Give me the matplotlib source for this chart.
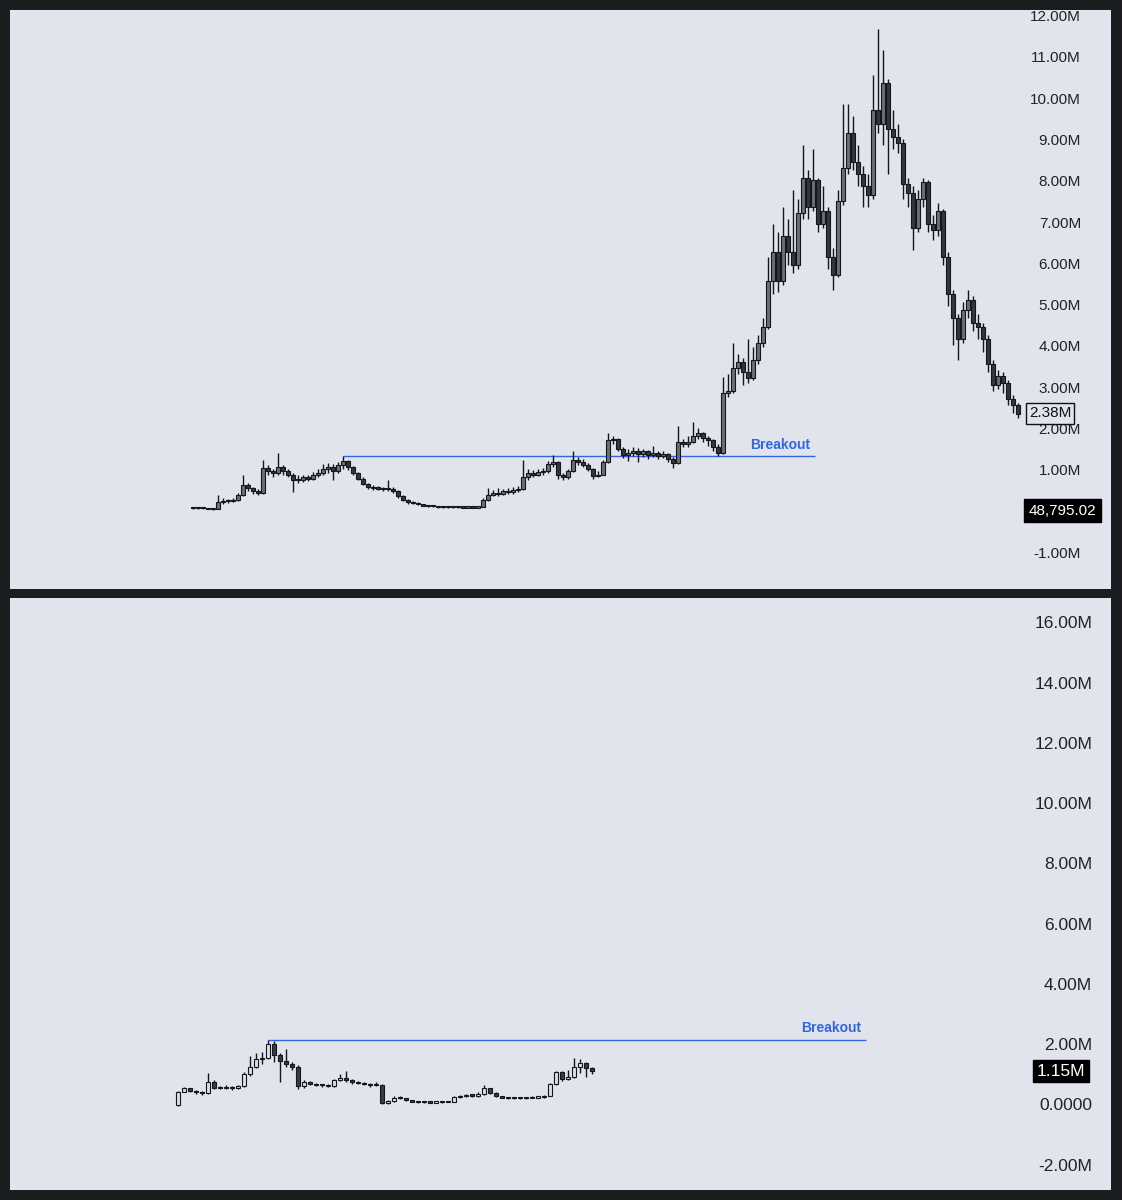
import matplotlib
matplotlib.use("Agg")
import matplotlib.pyplot as plt
import matplotlib.transforms as mtransforms
import numpy as np

# ---------------- data (values in millions) ----------------
top_close = [0.10, 0.11, 0.10, 0.09, 0.08, 0.25, 0.28, 0.27, 0.30, 0.42,
             0.68, 0.60, 0.52, 0.48, 1.08, 1.00, 0.95, 1.10, 1.00, 0.92,
             0.78, 0.80, 0.85, 0.82, 0.90, 0.95, 1.05, 1.10, 1.00, 1.15,
             1.25, 1.10, 0.95, 0.82, 0.70, 0.62, 0.60, 0.58, 0.56, 0.58,
             0.52, 0.40, 0.30, 0.25, 0.23, 0.20, 0.17, 0.15, 0.15, 0.14,
             0.14, 0.13, 0.14, 0.13, 0.12, 0.13, 0.12, 0.14, 0.30, 0.42,
             0.48, 0.45, 0.52, 0.50, 0.55, 0.58, 0.85, 0.95, 0.92, 0.98,
             1.00, 1.18, 1.22, 0.90, 0.85, 1.00, 1.28, 1.22, 1.15, 1.05,
             0.88, 0.92, 1.22, 1.75, 1.78, 1.55, 1.40, 1.45, 1.50, 1.42,
             1.48, 1.40, 1.45, 1.38, 1.42, 1.30, 1.20, 1.70, 1.65, 1.72,
             1.85, 1.92, 1.80, 1.75, 1.60, 1.45, 2.90, 2.95, 3.50, 3.65,
             3.40, 3.25, 3.70, 4.10, 4.50, 5.60, 6.30, 5.60, 6.70, 6.30,
             6.00, 7.25, 8.10, 7.40, 8.05, 7.00, 7.30, 6.20, 5.75, 7.55,
             8.35, 9.20, 8.50, 8.20, 7.90, 7.70, 9.75, 9.40, 10.40, 9.30,
             9.10, 8.95, 7.95, 7.75, 6.90, 7.60, 8.00, 7.00, 6.85, 7.30,
             6.20, 5.30, 4.70, 4.20, 4.90, 5.15, 4.60, 4.50, 4.20, 3.60,
             3.10, 3.30, 3.15, 2.75, 2.60, 2.38]
top_high = [0.12, 0.13, 0.12, 0.11, 0.10, 0.42, 0.35, 0.32, 0.36, 0.48,
            0.90, 0.72, 0.62, 0.58, 1.27, 1.15, 1.05, 1.44, 1.15, 1.05,
            0.95, 0.90, 0.92, 0.92, 0.98, 1.05, 1.18, 1.20, 1.18, 1.22,
            1.37, 1.28, 1.12, 0.98, 0.85, 0.72, 0.66, 0.64, 0.62, 0.78,
            0.62, 0.55, 0.42, 0.32, 0.28, 0.25, 0.22, 0.19, 0.17, 0.16,
            0.16, 0.15, 0.16, 0.15, 0.14, 0.15, 0.14, 0.16, 0.35, 0.60,
            0.55, 0.60, 0.58, 0.60, 0.62, 0.65, 1.27, 1.05, 1.02, 1.05,
            1.08, 1.25, 1.40, 1.25, 0.95, 1.05, 1.50, 1.35, 1.30, 1.20,
            1.08, 1.00, 1.28, 1.92, 1.85, 1.80, 1.58, 1.55, 1.58, 1.56,
            1.55, 1.52, 1.62, 1.50, 1.48, 1.45, 1.35, 2.10, 1.78, 1.85,
            2.20, 2.05, 1.95, 1.85, 1.78, 1.65, 3.28, 3.35, 4.10, 3.85,
            3.75, 4.20, 4.00, 4.30, 4.70, 6.20, 7.00, 6.80, 7.40, 7.10,
            7.80, 7.60, 8.90, 8.30, 8.80, 8.10, 7.90, 7.40, 6.40, 7.80,
            9.90, 9.90, 9.60, 8.90, 8.40, 8.20, 10.60, 11.70, 11.20, 10.50,
            9.75, 9.40, 9.05, 8.10, 7.90, 7.80, 8.10, 8.05, 7.20, 7.50,
            7.35, 6.30, 5.40, 4.80, 5.10, 5.40, 5.25, 4.80, 4.60, 4.30,
            3.70, 3.45, 3.40, 3.20, 2.85, 2.65]
top_low = [0.09, 0.09, 0.09, 0.08, 0.07, 0.08, 0.22, 0.24, 0.26, 0.28,
           0.40, 0.52, 0.46, 0.42, 0.46, 0.90, 0.85, 0.92, 0.92, 0.85,
           0.50, 0.72, 0.74, 0.76, 0.78, 0.85, 0.90, 0.95, 0.80, 0.95,
           1.05, 1.02, 0.90, 0.78, 0.66, 0.58, 0.55, 0.54, 0.52, 0.52,
           0.48, 0.36, 0.27, 0.22, 0.20, 0.18, 0.15, 0.13, 0.13, 0.12,
           0.12, 0.11, 0.12, 0.11, 0.10, 0.11, 0.10, 0.12, 0.13, 0.28,
           0.40, 0.40, 0.42, 0.45, 0.46, 0.50, 0.55, 0.80, 0.85, 0.88,
           0.92, 0.95, 1.10, 0.82, 0.78, 0.82, 0.98, 1.15, 1.10, 1.00,
           0.82, 0.85, 0.90, 1.20, 1.65, 1.48, 1.32, 1.25, 1.38, 1.22,
           1.35, 1.30, 1.35, 1.30, 1.32, 1.22, 1.08, 1.18, 1.58, 1.60,
           1.68, 1.78, 1.72, 1.62, 1.50, 1.38, 1.42, 2.80, 2.90, 3.35,
           3.10, 3.15, 3.20, 3.60, 4.00, 4.45, 5.30, 5.35, 5.50, 6.00,
           5.80, 5.90, 7.10, 7.10, 7.30, 6.80, 6.90, 5.90, 5.40, 5.70,
           7.45, 8.20, 8.30, 7.90, 7.40, 7.40, 7.60, 9.20, 8.90, 8.20,
           8.80, 8.70, 7.60, 7.40, 6.35, 6.80, 7.40, 6.80, 6.60, 6.70,
           6.00, 5.00, 4.05, 3.70, 4.10, 4.70, 4.40, 4.20, 3.90, 3.40,
           2.95, 3.00, 2.90, 2.60, 2.40, 2.30]
top_first_open = 0.10

bot_close = [0.47, 0.58, 0.50, 0.45, 0.42, 0.80, 0.60, 0.58, 0.60, 0.58,
             0.65, 1.05, 1.30, 1.55, 1.60, 2.05, 1.70, 1.50, 1.38, 1.30,
             0.65, 0.78, 0.72, 0.70, 0.68, 0.66, 0.85, 0.92, 0.85, 0.80,
             0.75, 0.72, 0.68, 0.70, 0.10, 0.15, 0.28, 0.25, 0.20, 0.14,
             0.13, 0.12, 0.11, 0.12, 0.13, 0.14, 0.30, 0.32, 0.35, 0.34,
             0.38, 0.58, 0.42, 0.33, 0.28, 0.26, 0.25, 0.26, 0.27, 0.28,
             0.30, 0.33, 0.72, 1.12, 0.88, 0.95, 1.28, 1.42, 1.25, 1.15]
bot_high = [0.50, 0.62, 0.60, 0.52, 0.48, 1.10, 0.85, 0.65, 0.68, 0.66,
            0.70, 1.12, 1.65, 1.75, 1.80, 2.20, 2.15, 1.75, 1.90, 1.45,
            1.35, 0.85, 0.82, 0.76, 0.74, 0.72, 0.90, 1.05, 1.15, 0.90,
            0.84, 0.78, 0.76, 0.80, 0.72, 0.20, 0.32, 0.32, 0.26, 0.21,
            0.16, 0.15, 0.13, 0.14, 0.15, 0.16, 0.32, 0.36, 0.40, 0.38,
            0.45, 0.68, 0.60, 0.45, 0.34, 0.30, 0.28, 0.28, 0.30, 0.32,
            0.33, 0.37, 0.75, 1.15, 1.15, 1.20, 1.60, 1.55, 1.45, 1.28]
bot_low = [0.00, 0.45, 0.45, 0.40, 0.35, 0.40, 0.55, 0.55, 0.55, 0.54,
           0.56, 0.64, 1.00, 1.25, 1.40, 1.55, 1.45, 0.80, 1.30, 1.20,
           0.55, 0.60, 0.68, 0.66, 0.64, 0.62, 0.64, 0.82, 0.80, 0.74,
           0.72, 0.68, 0.62, 0.65, 0.08, 0.08, 0.14, 0.22, 0.17, 0.12,
           0.11, 0.10, 0.09, 0.10, 0.11, 0.12, 0.13, 0.28, 0.30, 0.30,
           0.30, 0.36, 0.38, 0.30, 0.25, 0.24, 0.23, 0.23, 0.24, 0.25,
           0.26, 0.28, 0.32, 0.70, 0.84, 0.85, 0.92, 1.10, 0.95, 1.05]
bot_first_open = 0.02

top_ticks = [-1, 1, 2, 3, 4, 5, 6, 7, 8, 9, 10, 11, 12]
top_tick_labels = ["-1.00M", "1.00M", "2.00M", "3.00M", "4.00M", "5.00M", "6.00M",
                   "7.00M", "8.00M", "9.00M", "10.00M", "11.00M", "12.00M"]
bot_ticks = [-2, 0, 2, 4, 6, 8, 10, 12, 14, 16]
bot_tick_labels = ["-2.00M", "0.0000", "2.00M", "4.00M", "6.00M", "8.00M",
                   "10.00M", "12.00M", "14.00M", "16.00M"]

top_breakout_level = 1.37
top_breakout_span = (30, 124.4)
bot_breakout_level = 2.19
bot_breakout_span = (15, 114.7)

top_last_label = ("2.38M", 2.40)
top_price_label = ("48,795.02", 0.0488)
bot_last_label = ("1.15M", 1.15)

# ---------------- style ----------------
PANEL = "#e1e3ed"
DARK = "#1c1d21"
BLUE = "#3265e6"
W, H = 1122, 1200

fig = plt.figure(figsize=(W / 100, H / 100), dpi=100, facecolor=DARK)
plt.rcParams['font.family'] = ['Liberation Sans', 'DejaVu Sans']


def draw_candles(ax, first_open, close, high, low, width, up_face, down_face, min_h):
    close = np.array(close)
    opens = np.concatenate([[first_open], close[:-1]])
    x = np.arange(len(close))
    ax.vlines(x, low, high, color="#15161a", linewidth=1.0, zorder=2)
    bottoms = np.minimum(opens, close)
    heights = np.maximum(np.abs(close - opens), min_h)
    faces = [up_face if c >= o else down_face for o, c in zip(opens, close)]
    ax.bar(x, heights, bottom=bottoms, width=width, color=faces,
           edgecolor="#15161a", linewidth=0.8, zorder=3)


def px_to_axfrac(ax, px):
    pos = ax.get_position()
    return (px / W - pos.x0) / pos.width


def setup(ax, xlim, ylim, ticks, labels, label_x_px, fs):
    ax.set_facecolor(PANEL)
    ax.set_xlim(*xlim)
    ax.set_ylim(*ylim)
    for s in ax.spines.values():
        s.set_visible(False)
    ax.set_xticks([])
    ax.set_yticks([])
    xf = px_to_axfrac(ax, label_x_px)
    tr = mtransforms.blended_transform_factory(ax.transAxes, ax.transData)
    for t, lab in zip(ticks, labels):
        ax.text(xf, t, lab, transform=tr, ha="right", va="center",
                fontsize=fs, color="#222226")
    return tr


# ---------------- top panel ----------------
ax1 = fig.add_axes([10 / W, 1 - 589 / H, 1101 / W, 579 / H])
tr1 = setup(ax1, (-36.6, 183.6), (-1.85, 12.17), top_ticks, top_tick_labels, 1081, 11)
draw_candles(ax1, top_first_open, top_close, top_high, top_low, 0.62,
             "#6b6e76", "#34363c", 0.03)
ax1.hlines(top_breakout_level, *top_breakout_span, color=BLUE, linewidth=1.0, zorder=1)
ax1.text(top_breakout_span[1] - 1.0, top_breakout_level + 0.27, "Breakout",
         ha="right", va="center", fontsize=10, fontweight="bold", color=BLUE)
ax1.text(px_to_axfrac(ax1, 1050), top_last_label[1], top_last_label[0], transform=tr1,
         ha="center", va="center", fontsize=11, color="#111",
         bbox=dict(boxstyle="square,pad=0.2", facecolor=PANEL, edgecolor="#111", linewidth=1))
ax1.text(px_to_axfrac(ax1, 1062.5), top_price_label[1], top_price_label[0], transform=tr1,
         ha="center", va="center", fontsize=11, color="white",
         bbox=dict(boxstyle="square,pad=0.3", facecolor="black", edgecolor="black"))

# ---------------- bottom panel ----------------
ax2 = fig.add_axes([10 / W, 10 / H, 1101 / W, 592 / H])
tr2 = setup(ax2, (-28.0, 155.5), (-2.79, 16.86), bot_ticks, bot_tick_labels, 1092, 12.5)
draw_candles(ax2, bot_first_open, bot_close, bot_high, bot_low, 0.62,
             "#dcdee6", "#3a3c42", 0.04)
ax2.hlines(bot_breakout_level, *bot_breakout_span, color=BLUE, linewidth=1.0, zorder=1)
ax2.text(bot_breakout_span[1] - 0.8, bot_breakout_level + 0.40, "Breakout",
         ha="right", va="center", fontsize=10, fontweight="bold", color=BLUE)
ax2.text(px_to_axfrac(ax2, 1061), bot_last_label[1], bot_last_label[0], transform=tr2,
         ha="center", va="center", fontsize=12.5, color="white",
         bbox=dict(boxstyle="square,pad=0.2", facecolor="black", edgecolor="black"))

fig.savefig("out.png", dpi=100, facecolor=DARK)
